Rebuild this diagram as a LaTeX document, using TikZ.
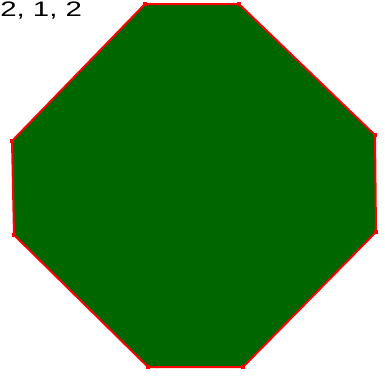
\documentclass[tikz,border=0pt]{standalone}
\usepackage{fontspec}
\setmainfont{Liberation Sans}
\begin{document}
\begin{tikzpicture}[x=1pt,y=-1pt,
  vdot/.style={fill=red,inner sep=0pt,minimum size=4pt,draw=none,rectangle},
  edge/.style={draw=red,line width=2pt,line join=round}]
\useasboundingbox (0,0) rectangle (385,376);
\coordinate (A) at (145,4);
\coordinate (B) at (239,4);
\coordinate (C) at (375,135);
\coordinate (D) at (376,232);
\coordinate (E) at (243,367);
\coordinate (F) at (148,367);
\coordinate (G) at (14,235);
\coordinate (H) at (12,141);
\fill[green!40!black] (A)--(B)--(C)--(D)--(E)--(F)--(G)--(H)--cycle;
\draw[edge] (A)--(B)--(C)--(D)--(E)--(F)--(G)--(H)--cycle;
\foreach \p in {A,B,C,D,E,F,G,H} \node[vdot] at (\p) {};
\node[anchor=base west,inner sep=0pt,xscale=1.4,font=\fontsize{21}{24}\selectfont] (lbl) at (0,16.7) {2, 1, 2};
\end{tikzpicture}
\end{document}
